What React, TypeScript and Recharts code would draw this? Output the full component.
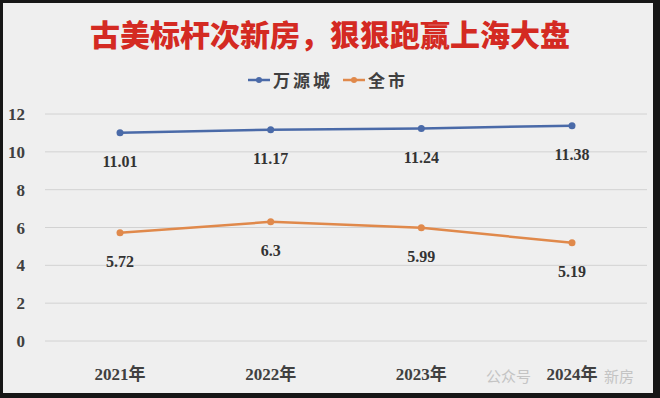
import { LineChart, Line, XAxis, YAxis, CartesianGrid, LabelList } from 'recharts'

const years = ['2021年', '2022年', '2023年', '2024年']
const wanyuancheng = [11.01, 11.17, 11.24, 11.38]
const citywide = [5.72, 6.3, 5.99, 5.19]
const yTicks = [0, 2, 4, 6, 8, 10, 12]

const title = '古美标杆次新房，狠狠跑赢上海大盘'
const seriesNames = ['万源城', '全市']
const colors = ['#4a6aa8', '#e0894b']

const data = years.map((y, i) => ({
  year: y,
  a: wanyuancheng[i],
  b: citywide[i],
}))

const serif = '"Liberation Serif", "DejaVu Serif", "Noto Sans CJK SC", serif'
const cjk = '"Noto Sans CJK SC", sans-serif'

function LegendItem({ color, label }: { color: string; label: string }) {
  return (
    <span style={{ display: 'inline-flex', alignItems: 'center', marginRight: 10 }}>
      <svg width={22} height={10} style={{ marginRight: 3 }}>
        <line x1={0} y1={5} x2={22} y2={5} stroke={color} strokeWidth={2.5} />
        <circle cx={11} cy={5} r={3} fill={color} />
      </svg>
      <span style={{ letterSpacing: 3 }}>{label}</span>
    </span>
  )
}

export default function App() {
  return (
    <div style={{ position: 'relative', width: 660, height: 398, background: '#efefef', overflow: 'hidden' }}>
      <style>{'body{margin:0}'}</style>
      <div
        style={{
          position: 'absolute',
          left: 0,
          top: 15,
          width: 660,
          textAlign: 'center',
          fontFamily: cjk,
          fontWeight: 900,
          fontSize: 30,
          color: '#d42a22',
          lineHeight: '36px',
        }}
      >
        {title}
      </div>
      <div
        style={{
          position: 'absolute',
          left: 248,
          top: 69,
          fontFamily: cjk,
          fontWeight: 700,
          fontSize: 17,
          color: '#404040',
          lineHeight: '22px',
          display: 'flex',
          whiteSpace: 'nowrap',
        }}
      >
        <LegendItem color={colors[0]} label={seriesNames[0]} />
        <LegendItem color={colors[1]} label={seriesNames[1]} />
      </div>
      {/* watermark */}
      <div style={{ position: 'absolute', left: 486, top: 365, fontFamily: cjk, fontSize: 15, color: '#c4c4c4', whiteSpace: 'nowrap' }}>
        公众号
      </div>
      <div style={{ position: 'absolute', left: 604, top: 365, fontFamily: cjk, fontSize: 15, color: '#c4c4c4', whiteSpace: 'nowrap' }}>
        新房
      </div>
      <div style={{ position: 'absolute', left: 0, top: 0 }}>
        <LineChart
          width={660}
          height={398}
          data={data}
          margin={{ top: 114, right: 13, bottom: 0, left: 0 }}
        >
          <CartesianGrid vertical={false} stroke="#d2d2d2" strokeWidth={1} />
          <XAxis
            dataKey="year"
            scale="point"
            padding={{ left: 75, right: 75 }}
            axisLine={false}
            tickLine={false}
            tickSize={0}
            tickMargin={27}
            height={57}
            tick={{ fontSize: 17, fontFamily: serif, fontWeight: 700, fill: '#404040' }}
          />
          <YAxis
            domain={[0, 12]}
            ticks={yTicks}
            axisLine={false}
            tickLine={false}
            tickSize={0}
            tickMargin={20}
            width={45}
            tick={{ fontSize: 17, fontFamily: serif, fontWeight: 700, fill: '#404040' }}
          />
          <Line
            dataKey="a"
            name={seriesNames[0]}
            stroke={colors[0]}
            strokeWidth={2.5}
            dot={{ r: 3.5, fill: colors[0], stroke: colors[0], strokeWidth: 0 }}
            isAnimationActive={false}
          >
            <LabelList
              dataKey="a"
              position="bottom"
              offset={23}
              style={{ fontSize: 16, fontFamily: serif, fontWeight: 700, fill: '#333333' }}
            />
          </Line>
          <Line
            dataKey="b"
            name={seriesNames[1]}
            stroke={colors[1]}
            strokeWidth={2.5}
            dot={{ r: 3.5, fill: colors[1], stroke: colors[1], strokeWidth: 0 }}
            isAnimationActive={false}
          >
            <LabelList
              dataKey="b"
              position="bottom"
              offset={23}
              style={{ fontSize: 16, fontFamily: serif, fontWeight: 700, fill: '#333333' }}
            />
          </Line>
        </LineChart>
      </div>
      <div
        style={{
          position: 'absolute',
          left: 0,
          top: 0,
          width: 660,
          height: 398,
          boxSizing: 'border-box',
          borderStyle: 'solid',
          borderColor: '#161616',
          borderWidth: '3px 7px 5px 3px',
          pointerEvents: 'none',
        }}
      />
    </div>
  )
}
